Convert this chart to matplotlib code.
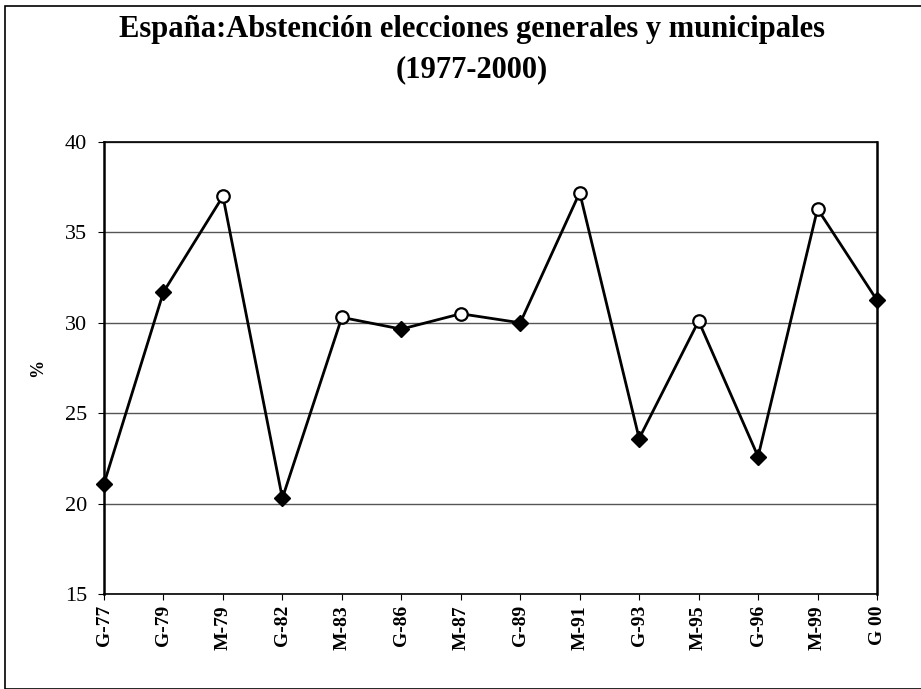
import matplotlib
matplotlib.use("Agg")
import matplotlib.pyplot as plt
from matplotlib.patches import Rectangle

# data
labels = ["G-77", "G-79", "M-79", "G-82", "M-83", "G-86", "M-87",
          "G-89", "M-91", "G-93", "M-95", "G-96", "M-99", "G 00"]
abstencion = [21.1, 31.7, 37.0, 20.3, 30.3, 29.65, 30.5,
              30.0, 37.2, 23.6, 30.1, 22.6, 36.3, 31.25]
y_ticks = [15, 20, 25, 30, 35, 40]

plt.rcParams["font.family"] = ["Liberation Serif", "DejaVu Serif"]

fig = plt.figure(figsize=(9.21, 6.89), dpi=100)
ax = fig.add_axes([104 / 921, 1 - 594 / 689, 773 / 921, 452 / 689])

x = list(range(len(labels)))
ax.plot(x, abstencion, color="black", lw=2.0, zorder=3)

# generales: filled diamonds, municipales: open circles
for xi, yi, lab in zip(x, abstencion, labels):
    if lab.startswith("M"):
        ax.plot(xi, yi, marker="o", ms=9, mfc="white", mec="black",
                mew=1.6, zorder=4, clip_on=False)
    else:
        ax.plot(xi, yi, marker="D", ms=8, mfc="black", mec="black",
                zorder=4, clip_on=False)

ax.set_xlim(0, len(labels) - 1)
ax.set_ylim(15, 40)
ax.set_yticks(y_ticks)
ax.set_xticks(x)
ax.set_xticklabels(labels, rotation=90, fontsize=14, fontweight="bold")
ax.tick_params(axis="y", labelsize=16, length=4, pad=8)
ax.tick_params(axis="x", length=4, pad=4)
ax.yaxis.grid(True, color="#555555", lw=1.0)
ax.set_axisbelow(True)

for side in ["left", "right"]:
    ax.spines[side].set_linewidth(1.8)
ax.spines["top"].set_linewidth(1.2)
ax.spines["bottom"].set_linewidth(1.2)

ax.set_ylabel("%", fontsize=13, fontweight="bold", labelpad=14)

title_x = 472 / 921
fig.text(title_x, 1 - 29 / 689, "España:Abstención elecciones generales y municipales",
         ha="center", va="center", fontsize=22, fontweight="bold")
fig.text(title_x, 1 - 70 / 689, "(1977-2000)",
         ha="center", va="center", fontsize=22, fontweight="bold")

# outer frame of the scanned chart
fig.patches.append(Rectangle((5 / 921, 0.0), 1.2, 1 - 6 / 689,
                             transform=fig.transFigure, fill=False,
                             edgecolor="black", lw=1.2))

fig.savefig("out.png", dpi=100)
